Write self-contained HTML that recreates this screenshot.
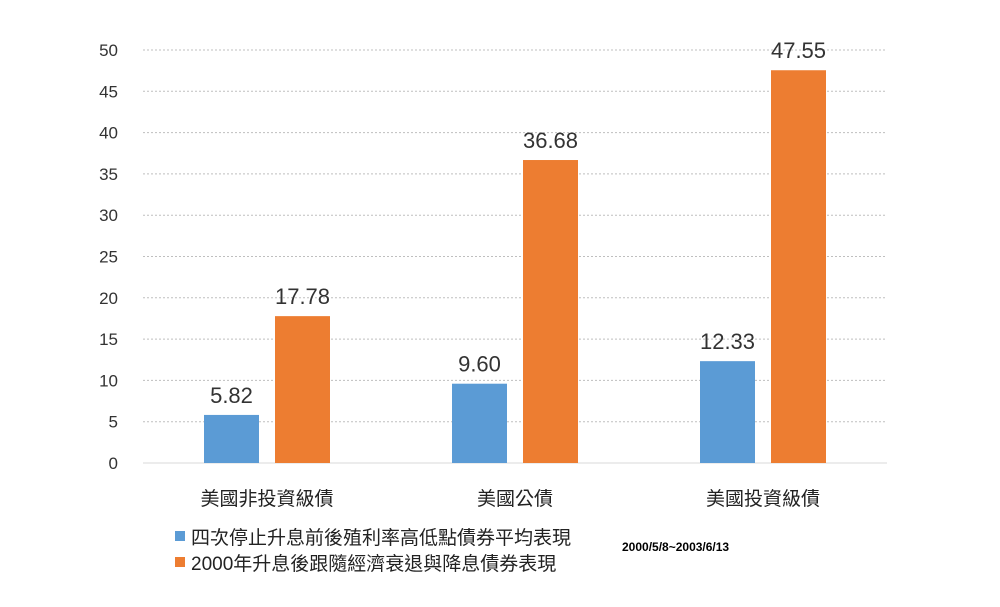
<!DOCTYPE html>
<html><head><meta charset="utf-8"><style>
body{margin:0;background:#fff;}
svg text{font-family:"Liberation Sans","Noto Sans CJK TC",sans-serif;}
</style></head><body>
<svg id="chart" width="1000" height="602">
<g id="grid"></g><g id="bars"></g><g id="labels"></g>
<rect x="175" y="531" width="10" height="10" fill="#5b9bd5"/>
<text x="191" y="544" font-size="19" fill="#222">四次停止升息前後殖利率高低點債券平均表現</text>
<rect x="175" y="557" width="10" height="10" fill="#ed7d31"/>
<text x="191" y="570" font-size="19" fill="#222">2000年升息後跟隨經濟衰退與降息債券表現</text>
<text x="622" y="551" font-size="12" font-weight="bold" fill="#000">2000/5/8~2003/6/13</text>
</svg>
<script>
const categories=["美國非投資級債","美國公債","美國投資級債"];
const seriesA=[5.82,9.60,12.33];
const seriesB=[17.78,36.68,47.55];
const yTicks=[0,5,10,15,20,25,30,35,40,45,50];
const NS="http://www.w3.org/2000/svg";
const x0=143,x1=887,y0=463,yTop=50,yMax=50;
const y=v=>y0-(v/yMax)*(y0-yTop);
const band=(x1-x0)/categories.length;
const cx=i=>x0+band*(i+0.5);
function mk(tag,attrs,parent,txt){const e=document.createElementNS(NS,tag);for(const k in attrs)e.setAttribute(k,attrs[k]);if(txt!==undefined)e.textContent=txt;document.getElementById(parent).appendChild(e);return e;}
yTicks.forEach(t=>{
  const l=mk('line',{x1:x0,x2:x1,y1:y(t),y2:y(t),stroke:t===0?'#d9d9d9':'#bfbfbf','stroke-dasharray':t===0?'':'2,2','stroke-width':1},'grid');
  
  
  const tx=mk('text',{x:118,y:y(t)+6,'text-anchor':'end','font-size':17,fill:'#333'},'labels',String(t));
  
  
});
const bw=55,gap=16;
categories.forEach((c,i)=>{
  [[seriesA[i],'#5b9bd5',-1],[seriesB[i],'#ed7d31',1]].forEach(([v,col,s])=>{
    const bx=s<0?cx(i)-gap/2-bw:cx(i)+gap/2;
    const r=mk('rect',{x:bx,y:y(v),width:bw,height:y0-y(v),fill:col},'bars');
    
    
    const t=mk('text',{x:bx+bw/2,y:y(v)-12,'text-anchor':'middle','font-size':22,fill:'#333'},'labels',v.toFixed(2));
    
    
  });
  const ct=mk('text',{x:cx(i),y:505,'text-anchor':'middle','font-size':19,fill:'#222'},'labels',c);
  
  
});
</script>
</body></html>
